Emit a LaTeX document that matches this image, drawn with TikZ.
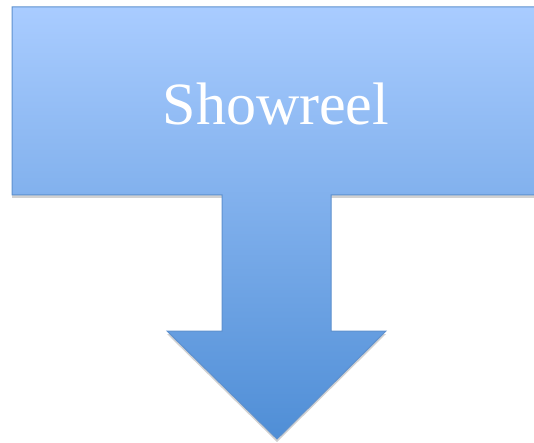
\documentclass[tikz,border=0pt]{standalone}
\usepackage{fontspec}
\setmainfont{Liberation Serif}
\usetikzlibrary{shadows}
\definecolor{calltop}{HTML}{A9CCFF}
\definecolor{callbot}{HTML}{4F8ED6}
\definecolor{callrim}{HTML}{5E91CF}
\begin{document}
\begin{tikzpicture}[x=1pt,y=-1pt,
                    callout/.style={draw=callrim,line width=1pt,top color=calltop,bottom color=callbot,
                                    drop shadow={shadow xshift=0pt,shadow yshift=-3pt,opacity=0.3,fill=black!60}},
                    title/.style={text=white,font=\fontsize{60}{60}\selectfont,anchor=base}]
  \useasboundingbox (0,0) rectangle (534,443);
  \clip (0,0) rectangle (534,443);
  \path[callout] (12,7) -- (545,7) -- (545,195) -- (331,195) -- (331,331) -- (386,331)
    -- (277,439) -- (167,331) -- (222,331) -- (222,195) -- (12,195) -- cycle;
  \node[title] (show) at (276,125) {Showreel};
\end{tikzpicture}
\end{document}
